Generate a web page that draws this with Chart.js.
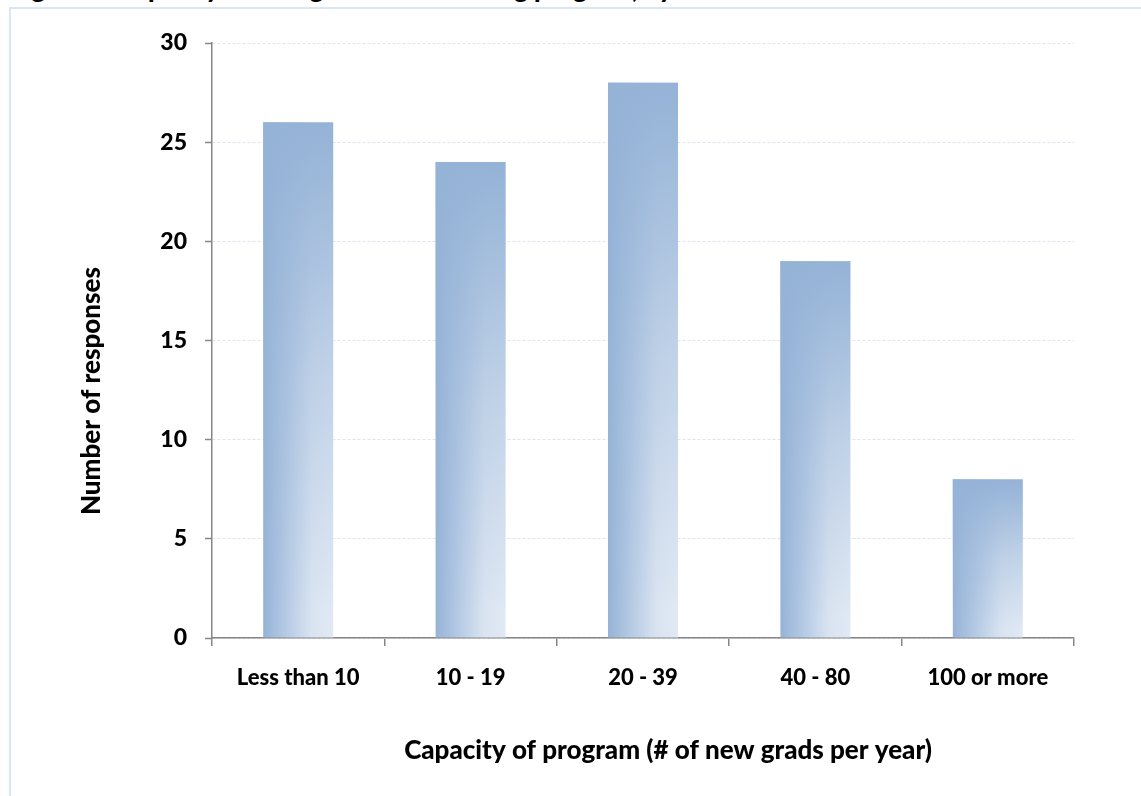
<!DOCTYPE html>
<html>
<head>
<meta charset="utf-8">
<script src="https://cdn.jsdelivr.net/npm/chart.js@4"></script>
<style>
  html, body { margin: 0; padding: 0; background: #fff; overflow: hidden; }
  #wrap { position: relative; width: 1141px; height: 796px; }
  #frame { position: absolute; left: 9px; top: 7px; width: 1200px; height: 900px; border: 2px solid #dce6f2; }
  #heading { position: absolute; left: 10px; top: -28px; font: 900 26px Lato, sans-serif; color: #000; white-space: nowrap; }
  canvas { position: absolute; left: 0; top: 0; }
</style>
</head>
<body>
<div id="wrap">
  <div id="heading">Figure 3: Capacity of new grad nurse training program, by size</div>
  <div id="frame"></div>
  <canvas id="capacityChart" width="1141" height="796"></canvas>
</div>
<script>
// data
const categories = ['Less than 10', '10 - 19', '20 - 39', '40 - 80', '100 or more'];
const responses = [26, 24, 28, 19, 8];
const yTicks = [0, 5, 10, 15, 20, 25, 30];

const labelFont = { family: 'Lato, sans-serif', size: 22, weight: '900' };
const BAR_PCT = 0.406;

// horizontal gradient for each bar, darker on the left
function barFill(context) {
  const chart = context.chart;
  const xScale = chart.scales.x;
  if (!xScale || !chart.chartArea || context.dataIndex === undefined) return '#b8cce4';
  const w = (xScale.width / categories.length) * BAR_PCT;
  const left = xScale.getPixelForValue(context.dataIndex) - w / 2;
  const g = chart.ctx.createLinearGradient(left, 0, left + w, 0);
  g.addColorStop(0, '#95b3d7');
  g.addColorStop(0.4, '#bccfe7');
  g.addColorStop(0.7, '#dae4f1');
  g.addColorStop(1, '#e0e9f4');
  return g;
}

// shade the top of every bar so it looks like the office gradient
const topShade = {
  id: 'topShade',
  afterDatasetsDraw(chart) {
    const ctx = chart.ctx;
    chart.getDatasetMeta(0).data.forEach(function (bar) {
      const left = bar.x - bar.width / 2;
      const h = bar.base - bar.y;
      const g = ctx.createLinearGradient(0, bar.y, 0, bar.base);
      g.addColorStop(0, 'rgba(149,179,215,1)');
      g.addColorStop(0.1, 'rgba(149,179,215,0.9)');
      g.addColorStop(0.5, 'rgba(149,179,215,0.4)');
      g.addColorStop(0.95, 'rgba(149,179,215,0)');
      ctx.save();
      ctx.fillStyle = g;
      ctx.fillRect(left, bar.y, bar.width, h);
      ctx.restore();
    });
  }
};

// axis titles sit off-centre in the original, so they are placed here
const axisTitles = {
  id: 'axisTitles',
  afterDraw(chart) {
    const ctx = chart.ctx;
    ctx.save();
    ctx.fillStyle = '#000';
    ctx.font = '900 26px Lato, sans-serif';
    ctx.textAlign = 'center';
    ctx.textBaseline = 'middle';
    ctx.fillText('Capacity of program (# of new grads per year)', 668, 751);
    ctx.translate(92, 391);
    ctx.rotate(-Math.PI / 2);
    ctx.fillText('Number of responses', 0, 0);
    ctx.restore();
  }
};

new Chart(document.getElementById('capacityChart'), {
  type: 'bar',
  data: {
    labels: categories,
    datasets: [{
      label: 'Number of responses',
      data: responses,
      backgroundColor: barFill,
      borderWidth: 0,
      categoryPercentage: 1,
      barPercentage: BAR_PCT,
    }],
  },
  options: {
    responsive: false,
    devicePixelRatio: 1,
    animation: false,
    layout: { padding: { top: 43, right: 67, bottom: 0, left: 0 } },
    plugins: {
      legend: { display: false },
      tooltip: { enabled: false },
    },
    scales: {
      x: {
        grid: { display: true, drawOnChartArea: false, offset: true, tickLength: 8, color: '#868686', lineWidth: 1.5 },
        border: { color: '#868686', width: 1.5 },
        ticks: { color: '#000', font: labelFont, padding: 19, maxRotation: 0 },
        afterFit(scale) { scale.height = 796 - 638; },
      },
      y: {
        min: 0,
        max: 30,
        afterBuildTicks(scale) { scale.ticks = yTicks.map(function (v) { return { value: v }; }); },
        grid: { color: '#dde5f0', lineWidth: 1, tickLength: 7, tickColor: '#868686', tickWidth: 1.5 },
        border: { color: '#868686', width: 1.5, dash: [3, 2] },
        ticks: { color: '#000', font: Object.assign({}, labelFont, { size: 23 }), padding: 18 },
        afterFit(scale) { scale.width = 212; },
      },
    },
  },
  plugins: [topShade, axisTitles],
});
</script>
</body>
</html>
